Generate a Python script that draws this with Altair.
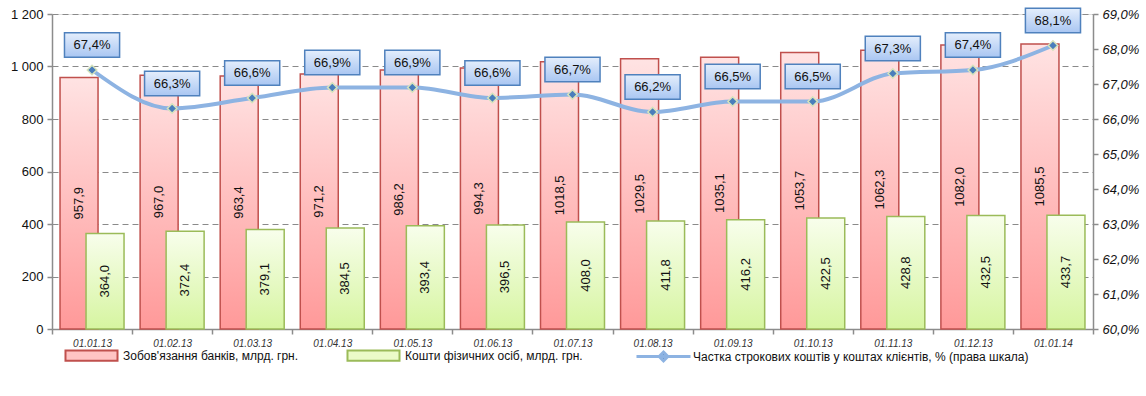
import altair as alt
import pandas as pd

dates = ["01.01.13", "01.02.13", "01.03.13", "01.04.13", "01.05.13", "01.06.13", "01.07.13",
         "01.08.13", "01.09.13", "01.10.13", "01.11.13", "01.12.13", "01.01.14"]
banks = [957.9, 967.0, 963.4, 971.2, 986.2, 994.3, 1018.5, 1029.5, 1035.1, 1053.7, 1062.3, 1082.0, 1085.5]
persons = [364.0, 372.4, 379.1, 384.5, 393.4, 396.5, 408.0, 411.8, 416.2, 422.5, 428.8, 432.5, 433.7]
share = [0.674, 0.663, 0.666, 0.669, 0.669, 0.666, 0.667, 0.662, 0.665, 0.665, 0.673, 0.674, 0.681]

name_banks = "Зобов'язання банків, млрд. грн."
name_persons = "Кошти фізичних осіб, млрд. грн."
name_share = "Частка строкових коштів у коштах клієнтів, % (права шкала)"

df = pd.DataFrame({"date": dates, "banks": banks, "persons": persons, "share": share,
                   "series": [name_share] * len(dates)})
legend_df = pd.DataFrame({"series": [name_banks, name_persons]})

FONT = "Liberation Sans"
W, H = 1041, 315

x_enc = alt.X("date:N", sort=dates, title=None,
              scale=alt.Scale(paddingInner=0, paddingOuter=0),
              axis=alt.Axis(tickBand="extent", labelFontStyle="italic", labelFontSize=10,
                            labelColor="#333333", labelAngle=0, labelPadding=4,
                            domainColor="#8c8c8c", domainWidth=1.5, tickColor="#8c8c8c",
                            tickSize=5, tickWidth=1.5, labelFont=FONT))

left_scale = alt.Scale(domain=[0, 1200], nice=False)
left_axis = alt.Axis(values=[0, 200, 400, 600, 800, 1000, 1200], format=",d",
                     grid=True, gridDash=[6, 4], gridColor="#8a8a8a", gridWidth=1,
                     domainColor="#8c8c8c", domainWidth=1.5, tickColor="#8c8c8c",
                     tickSize=5, tickWidth=1.5, labelFontSize=13, labelColor="#111111",
                     labelFont=FONT, labelPadding=4, labelOverlap=False)

red_grad = alt.Gradient(gradient="linear", x1=0, x2=0, y1=0, y2=1,
                        stops=[alt.GradientStop(color="#ffe3e3", offset=0),
                               alt.GradientStop(color="#ff9999", offset=1)])
green_grad = alt.Gradient(gradient="linear", x1=0, x2=0, y1=0, y2=1,
                          stops=[alt.GradientStop(color="#f8feec", offset=0),
                                 alt.GradientStop(color="#d6f5a0", offset=1)])
box_grad = alt.Gradient(gradient="linear", x1=0, x2=0, y1=0, y2=1,
                        stops=[alt.GradientStop(color="#e4eefc", offset=0),
                               alt.GradientStop(color="#a9c6f2", offset=1)])

base = alt.Chart(df)

bar_legend = alt.Legend(title=None, orient="none", direction="horizontal",
                        legendX=28, legendY=330,
                        symbolType="M-2.5,-0.5H2.5V0.5H-2.5Z", symbolSize=433,
                        symbolStrokeWidth=2, labelOffset=20, columnPadding=44,
                        labelFontSize=12, labelFont=FONT, labelColor="#111111",
                        labelLimit=600)

legend_layer = alt.Chart(legend_df).mark_bar(strokeWidth=0).encode(
    y=alt.value(0), y2=alt.value(0),
    fill=alt.Fill("series:N", sort=[name_banks, name_persons],
                  scale=alt.Scale(domain=[name_banks, name_persons], range=["#ffc4c4", "#ebfbc8"]),
                  legend=bar_legend),
    stroke=alt.Stroke("series:N", sort=[name_banks, name_persons],
                      scale=alt.Scale(domain=[name_banks, name_persons], range=["#c0504d", "#9bbb59"]),
                      legend=bar_legend),
)

red_bars = base.mark_bar(width=38, xOffset=-13, fill=red_grad, stroke="#c0504d", strokeWidth=1.5).encode(
    x=x_enc,
    y=alt.Y("banks:Q", scale=left_scale, axis=left_axis, title=None),
)
green_bars = base.mark_bar(width=38, xOffset=13, fill=green_grad, stroke="#9bbb59", strokeWidth=1.5).encode(
    x=x_enc,
    y=alt.Y("persons:Q", scale=left_scale, axis=left_axis, title=None),
)
red_text = base.transform_calculate(mid="datum.banks / 2").mark_text(
    angle=270, xOffset=-13, fontSize=13, font=FONT, color="#111111", baseline="middle", align="center"
).encode(
    x=x_enc,
    y=alt.Y("mid:Q", scale=left_scale, axis=left_axis, title=None),
    text=alt.Text("banks:Q", format=".1f"),
)
green_text = base.transform_calculate(mid="datum.persons / 2").mark_text(
    angle=270, xOffset=13, fontSize=13, font=FONT, color="#111111", baseline="middle", align="center"
).encode(
    x=x_enc,
    y=alt.Y("mid:Q", scale=left_scale, axis=left_axis, title=None),
    text=alt.Text("persons:Q", format=".1f"),
)

left = alt.layer(legend_layer, red_bars, green_bars, red_text, green_text)

right_scale = alt.Scale(domain=[0.60, 0.69], nice=False)
right_axis = alt.Axis(orient="right", format=".1%",
                      values=[0.60, 0.61, 0.62, 0.63, 0.64, 0.65, 0.66, 0.67, 0.68, 0.69],
                      grid=False, domainColor="#8c8c8c", domainWidth=1.5, tickColor="#8c8c8c",
                      tickSize=5, tickWidth=1.5, labelFontSize=13, labelFontStyle="italic",
                      labelColor="#111111", labelFont=FONT, labelPadding=4,
                      labelOverlap=False, labelFlush=False)

line = base.mark_line(strokeWidth=4, interpolate="monotone").encode(
    x=x_enc,
    y=alt.Y("share:Q", scale=right_scale, axis=right_axis, title=None),
    color=alt.Color("series:N",
                    scale=alt.Scale(domain=[name_share], range=["#8db3e2"]),
                    legend=alt.Legend(title=None, orient="none", direction="horizontal",
                                      legendX=599, legendY=330,
                                      symbolType="M-2.5,0L2.5,0M0,-0.4L0.4,0L0,0.4L-0.4,0Z",
                                      symbolSize=467, symbolStrokeWidth=3,
                                      symbolFillColor="#4f81bd", labelOffset=17,
                                      labelFontSize=12, labelFont=FONT, labelColor="#111111",
                                      labelLimit=800)),
)
points = base.mark_point(shape="diamond", filled=True, size=90, fill="#4a7ebb",
                         stroke="#d6e3bc", strokeWidth=1.5, opacity=1).encode(
    x=x_enc,
    y=alt.Y("share:Q", scale=right_scale, axis=right_axis, title=None),
)
boxes = base.mark_point(shape="M-2.25,-1H2.25V1H-2.25Z", size=600, filled=True, fill=box_grad,
                        stroke="#4f81bd", strokeWidth=1.5, opacity=1, yOffset=-25).encode(
    x=x_enc,
    y=alt.Y("share:Q", scale=right_scale, axis=right_axis, title=None),
)
box_text = base.mark_text(fontSize=13, font=FONT, color="#111111", yOffset=-25,
                          baseline="middle", align="center").encode(
    x=x_enc,
    y=alt.Y("share:Q", scale=right_scale, axis=right_axis, title=None),
    text=alt.Text("share:Q", format=".1%"),
)

right = alt.layer(line, points, boxes, box_text)

chart = alt.layer(left, right).resolve_scale(y="independent").properties(
    width=W, height=H,
    autosize=alt.AutoSizeParams(type="none"),
    padding={"left": 52, "top": 14, "right": 53, "bottom": 67},
    background="white",
).configure_view(stroke=None).configure(
    locale=alt.Locale(number=alt.NumberLocale(decimal=",", thousands="\u00a0", grouping=[3],
                                               currency=["", ""]))
)

chart.save("out.html", embed_options={"renderer": "svg", "actions": False})
